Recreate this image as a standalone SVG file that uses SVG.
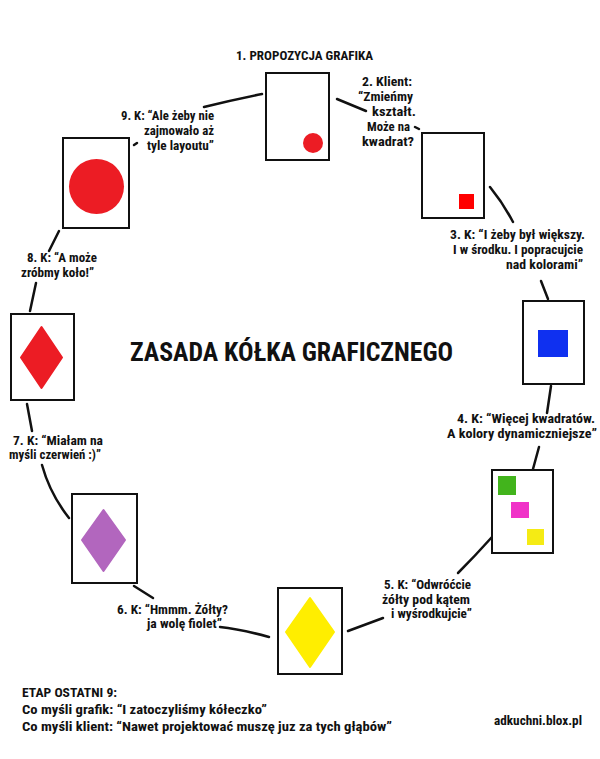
<svg xmlns="http://www.w3.org/2000/svg" width="600" height="759" viewBox="0 0 600 759">
<style>
text{font-family:"Liberation Sans Narrow","Roboto Condensed","DejaVu Sans Condensed",sans-serif;font-weight:bold;fill:#111;}
.lbl{font-size:13px;}
.card{fill:#fff;stroke:#111;stroke-width:2;}
.con{fill:none;stroke:#111;stroke-width:2.5;stroke-linecap:round;}
.title{font-size:25px;}
.foot{font-size:13.5px;}
</style>
<rect width="600" height="759" fill="#fff"/>
<g id="connectors">
<path class="con" d="M204,107 Q232,100 262,94"/>
<path class="con" d="M337,99 L366,111"/>
<path class="con" d="M415,127 L419,129"/>
<path class="con" d="M490,187 Q503,203 513,222"/>
<path class="con" d="M541,281 L548,299"/>
<path class="con" d="M551,386 L547,413"/>
<path class="con" d="M539,447 L533,469"/>
<path class="con" d="M492,537 Q475,556 458,573"/>
<path class="con" d="M383,618 L348,631"/>
<path class="con" d="M269,637 Q240,629 220,627"/>
<path class="con" d="M134,586 L153,598"/>
<path class="con" d="M69,518 Q50,494 42,465"/>
<path class="con" d="M32,431 L27,404"/>
<path class="con" d="M36,283 L30,311"/>
<path class="con" d="M49,251 L59,231"/>
<path class="con" d="M134,145 L137,143"/>
</g>
<g id="card1">
<rect class="card" x="266" y="73" width="63" height="87"/>
<circle cx="313" cy="143" r="10" fill="#ec1c24"/>
</g>
<g id="card2">
<rect class="card" x="422" y="133" width="62" height="85"/>
<rect x="459" y="194" width="15" height="15" fill="#f00"/>
</g>
<g id="card3">
<rect class="card" x="523" y="301" width="61" height="83"/>
<rect x="538" y="330" width="30" height="27" fill="#0f30f0"/>
</g>
<g id="card4">
<rect class="card" x="492" y="470" width="61" height="83"/>
<rect x="498" y="476" width="18" height="19" fill="#42b41c"/>
<rect x="511" y="502" width="18" height="16" fill="#f032c8"/>
<rect x="527" y="529" width="17" height="16" fill="#f5eb14"/>
</g>
<g id="card5">
<rect class="card" x="278" y="588" width="64" height="86"/>
<path d="M310,598 L334,632 L310,667 L286,632 Z" fill="#ffee00" stroke="#ffee00" stroke-width="2" stroke-linejoin="round"/>
</g>
<g id="card6">
<rect class="card" x="72" y="494" width="65" height="89"/>
<path d="M103.5,510 L125,540 L103.5,571 L82,540 Z" fill="#b266be" stroke="#b266be" stroke-width="2" stroke-linejoin="round"/>
</g>
<g id="card7">
<rect class="card" x="11" y="314" width="63" height="86"/>
<path d="M41.5,327 L62,357.5 L41.5,388 L21,357.5 Z" fill="#ec1c24" stroke="#ec1c24" stroke-width="2" stroke-linejoin="round"/>
</g>
<g id="card8">
<rect class="card" x="63" y="138" width="66" height="90"/>
<circle cx="96.5" cy="186.5" r="27.5" fill="#ec1c24"/>
</g>
<g id="labels">
<text class="lbl" x="236" y="60" textLength="137" lengthAdjust="spacingAndGlyphs">1. PROPOZYCJA GRAFIKA</text>
<text class="lbl" x="362" y="86" textLength="50" lengthAdjust="spacingAndGlyphs">2. Klient:</text>
<text class="lbl" x="358" y="101" textLength="55" lengthAdjust="spacingAndGlyphs">“Zmieńmy</text>
<text class="lbl" x="372" y="116" textLength="44" lengthAdjust="spacingAndGlyphs">kształt.</text>
<text class="lbl" x="367" y="131" textLength="43" lengthAdjust="spacingAndGlyphs">Może na</text>
<text class="lbl" x="362" y="146" textLength="52" lengthAdjust="spacingAndGlyphs">kwadrat?</text>
<text class="lbl" x="450" y="239" textLength="135" lengthAdjust="spacingAndGlyphs">3. K: “I żeby był większy.</text>
<text class="lbl" x="453" y="254" textLength="130" lengthAdjust="spacingAndGlyphs">I w środku. I popracujcie</text>
<text class="lbl" x="506" y="269" textLength="77" lengthAdjust="spacingAndGlyphs">nad kolorami”</text>
<text class="lbl" x="457" y="423" textLength="138" lengthAdjust="spacingAndGlyphs">4. K: “Więcej kwadratów.</text>
<text class="lbl" x="447" y="438" textLength="150" lengthAdjust="spacingAndGlyphs">A kolory dynamiczniejsze”</text>
<text class="lbl" x="384" y="589" textLength="87" lengthAdjust="spacingAndGlyphs">5. K: “Odwróćcie</text>
<text class="lbl" x="382" y="604" textLength="88" lengthAdjust="spacingAndGlyphs">żółty pod kątem</text>
<text class="lbl" x="391" y="618" textLength="81" lengthAdjust="spacingAndGlyphs">i wyśrodkujcie”</text>
<text class="lbl" x="117" y="614" textLength="111" lengthAdjust="spacingAndGlyphs">6. K: “Hmmm. Żółty?</text>
<text class="lbl" x="147" y="628" textLength="75" lengthAdjust="spacingAndGlyphs">ja wolę fiolet”</text>
<text class="lbl" x="13" y="445" textLength="90" lengthAdjust="spacingAndGlyphs">7. K: “Miałam na</text>
<text class="lbl" x="9" y="459" textLength="92" lengthAdjust="spacingAndGlyphs">myśli czerwień :)”</text>
<text class="lbl" x="27" y="262" textLength="70" lengthAdjust="spacingAndGlyphs">8. K: “A może</text>
<text class="lbl" x="21" y="277" textLength="73" lengthAdjust="spacingAndGlyphs">zróbmy koło!”</text>
<text class="lbl" x="121" y="120" textLength="93" lengthAdjust="spacingAndGlyphs">9. K: “Ale żeby nie</text>
<text class="lbl" x="144" y="135" textLength="70" lengthAdjust="spacingAndGlyphs">zajmowało aż</text>
<text class="lbl" x="147" y="150" textLength="67" lengthAdjust="spacingAndGlyphs">tyle layoutu”</text>
</g>
<text class="title" x="130" y="361" textLength="323" lengthAdjust="spacingAndGlyphs">ZASADA KÓŁKA GRAFICZNEGO</text>
<text class="foot" x="22" y="697" textLength="95" lengthAdjust="spacingAndGlyphs">ETAP OSTATNI 9:</text>
<text class="foot" x="22" y="714" textLength="245" lengthAdjust="spacingAndGlyphs">Co myśli grafik: “I zatoczyliśmy kółeczko”</text>
<text class="foot" x="22" y="731" textLength="370" lengthAdjust="spacingAndGlyphs">Co myśli klient: “Nawet projektować muszę juz za tych głąbów”</text>
<text class="foot" x="494" y="725" textLength="88" lengthAdjust="spacingAndGlyphs">adkuchni.blox.pl</text>
</svg>
